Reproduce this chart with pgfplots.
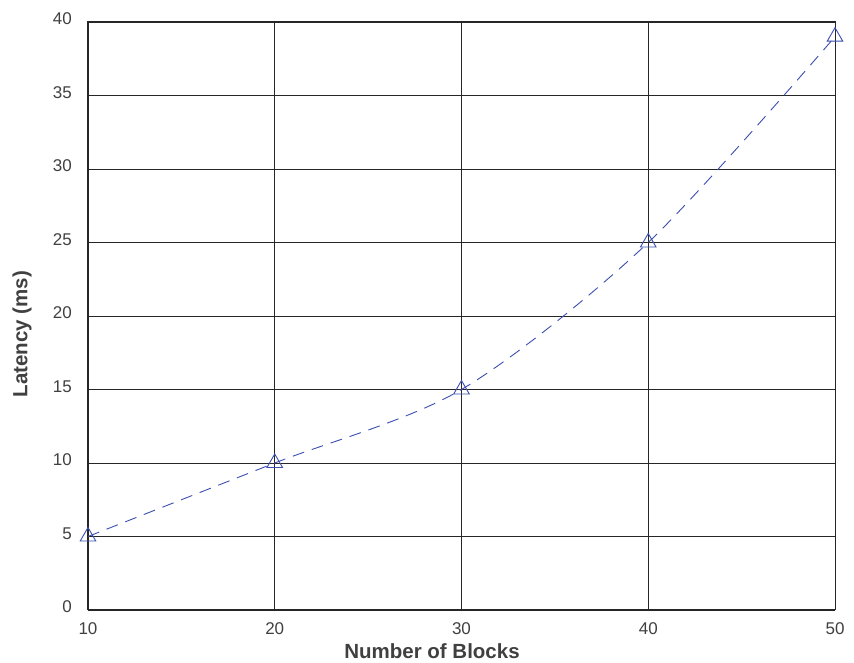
\documentclass[border=0pt]{standalone}
\usepackage{fontspec}
\setmainfont{Liberation Sans}
\usepackage{pgfplots}
\pgfplotsset{compat=1.18}
\definecolor{lineblue}{RGB}{58,78,176}
\begin{document}
\begin{tikzpicture}
\useasboundingbox (-88pt,-53pt) rectangle (766pt,610pt);
\begin{axis}[
  at={(0pt,0pt)}, anchor=south west,
  scale only axis,
  width=747pt, height=588pt,
  xmin=10, xmax=50, ymin=0, ymax=40,
  xtick={10,20,30,40,50},
  ytick={0,5,10,15,20,25,30,35,40},
  grid=major,
  major grid style={black!85, line width=0.8pt},
  axis line style={black!85, line width=1pt},
  major tick length=0pt,
  /pgf/number format/assume math mode=true,
  tick label style={font=\fontsize{17}{19}\selectfont, text=black!75, inner sep=0pt},
  yticklabel style={anchor=east, xshift=-16pt, yshift=3pt},
  xticklabel style={anchor=center, yshift=-19pt},
  xlabel={\textbf{Number of Blocks}},
  ylabel={\textbf{Latency (ms)}},
  label style={font=\fontsize{20.5}{22}\selectfont, text=black!75},
  xlabel style={at={(axis description cs:0.4605,-0.083)}, anchor=base},
  ylabel style={at={(axis description cs:-0.0884,0.469)}, anchor=center},
]
\addplot[lineblue, line width=0.9pt, dash pattern=on 12pt off 8pt, smooth,
  mark=triangle, mark size=9pt, mark options={solid, line width=0.9pt}]
  coordinates {(10,5) (20,10) (30,15) (40,25) (50,39)};
\end{axis}
\end{tikzpicture}
\end{document}
